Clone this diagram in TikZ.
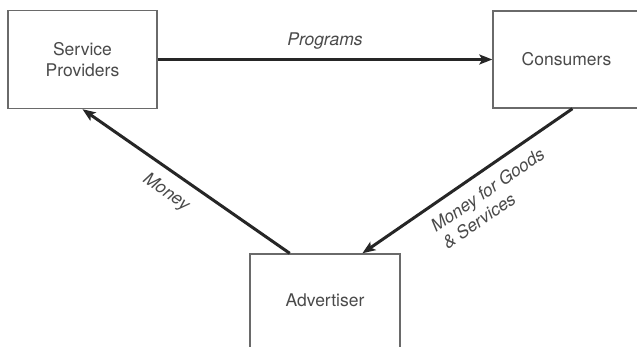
\documentclass[tikz,border=0pt]{standalone}
\usepackage{fontspec}
\setmainfont{TeX Gyre Heros}
\usetikzlibrary{arrows.meta,calc}
\definecolor{inkgray}{HTML}{4A4A4A}
\definecolor{framegray}{HTML}{6A6A6A}
\definecolor{arrowink}{HTML}{262626}
\begin{document}
\begin{tikzpicture}[x=1pt,y=-1pt,
  party/.style={draw=framegray, line width=1.4pt, inner sep=0pt, align=center,
    text=inkgray, font=\fontsize{17.5}{21}\selectfont},
  partyname/.style={text=inkgray, inner sep=0pt, font=\fontsize{17.5}{21}\selectfont},
  flow/.style={draw=arrowink, line width=3pt,
    -{Stealth[length=13pt,width=10pt,inset=3pt]}},
  flowlabel/.style={text=inkgray, inner sep=2pt,
    font=\fontsize{17.5}{20.5}\selectfont\itshape}]
\useasboundingbox (0,0) rectangle (637,347);
\fill[white] (0,0) rectangle (637,347);
\clip (0,0) rectangle (637,347);

% the three parties
\node[party, minimum width=149pt, minimum height=98pt] (sp) at (82.5,59.5) {Service\\Providers};
\node[party, minimum width=147pt, minimum height=97pt] (cons) at (566.5,59.5) {Consumers};
\node[party, minimum width=150pt, minimum height=130pt] (adv) at (325,319) {};
\node[partyname] (advname) at (325,300) {Advertiser};

% flows between them
\draw[flow] (sp.east) -- node[flowlabel, above=7pt] (lblprog) {Programs} (cons.west);
\draw[flow] ($(adv.north west)!0.267!(adv.north east)$)
  -- node[flowlabel, sloped, pos=0.54, below=9pt] (lblmoney) {Money} (sp.south);
\draw[flow] ($(cons.south west)!0.54!(cons.south east)$)
  -- node[flowlabel, sloped, pos=0.455, below=8.5pt, align=left] (lblgoods)
     {Money for Goods\\\& Services}
  ($(adv.north west)!0.747!(adv.north east)$);
\end{tikzpicture}
\end{document}
